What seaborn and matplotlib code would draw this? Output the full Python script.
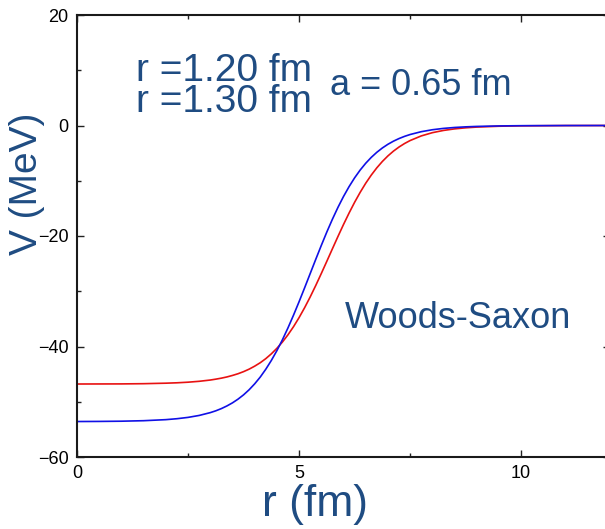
import numpy as np
import pandas as pd
import matplotlib
matplotlib.use("Agg")
import matplotlib.pyplot as plt
from matplotlib.ticker import MultipleLocator
import seaborn as sns

# Radial distance (fm)
r_fm = [0.0, 0.5, 1.0, 1.5, 2.0, 2.25, 2.5, 2.75,
        3.0, 3.125, 3.25, 3.375, 3.5, 3.625, 3.75, 3.875,
        4.0, 4.125, 4.25, 4.375, 4.5, 4.625, 4.75, 4.875,
        5.0, 5.125, 5.25, 5.375, 5.5, 5.625, 5.75, 5.875,
        6.0, 6.125, 6.25, 6.375, 6.5, 6.625, 6.75, 6.875,
        7.0, 7.125, 7.25, 7.375, 7.5, 7.75, 8.0, 8.25, 8.5, 8.75,
        9.0, 9.5, 10.0, 11.0, 12.0]

# Potential (MeV), r0 = 1.20 fm
v_r120 = [-53.58, -53.56, -53.52, -53.43, -53.24, -53.07, -52.83, -52.48,
          -51.97, -51.64, -51.24, -50.76, -50.20, -49.53, -48.75, -47.83,
          -46.76, -45.54, -44.12, -42.53, -40.75, -38.78, -36.63, -34.32,
          -31.89, -29.37, -26.80, -24.23, -21.71, -19.27, -16.97, -14.82,
          -12.85, -11.07, -9.475, -8.065, -6.835, -5.770, -4.851, -4.067,
          -3.399, -2.836, -2.362, -1.964, -1.631, -1.121, -0.769, -0.526,
          -0.359, -0.245, -0.167, -0.078, -0.036, -0.008, -0.002]

# Potential (MeV), r0 = 1.30 fm
v_r130 = [-46.79, -46.78, -46.77, -46.73, -46.64, -46.57, -46.46, -46.30,
          -46.07, -45.91, -45.73, -45.51, -45.24, -44.93, -44.55, -44.10,
          -43.56, -42.94, -42.20, -41.33, -40.33, -39.19, -37.88, -36.41,
          -34.77, -32.97, -31.03, -28.96, -26.79, -24.57, -22.32, -20.09,
          -17.92, -15.85, -13.90, -12.10, -10.45, -8.977, -7.662, -6.508,
          -5.504, -4.635, -3.893, -3.259, -2.722, -1.888, -1.302, -0.894,
          -0.612, -0.419, -0.286, -0.133, -0.062, -0.013, -0.003]

series_names = ["r0 = 1.30 fm", "r0 = 1.20 fm"]
series_colors = ["#e81212", "#1010e6"]

df = pd.concat([
    pd.DataFrame({"r": r_fm, "V": v_r130, "set": series_names[0]}),
    pd.DataFrame({"r": r_fm, "V": v_r120, "set": series_names[1]}),
], ignore_index=True)

sns.set_style("ticks")
plt.rcParams["font.family"] = ["Liberation Sans", "DejaVu Sans"]
plt.rcParams["axes.unicode_minus"] = True

W, H = 605, 529
fig = plt.figure(figsize=(W / 100, H / 100), dpi=100)
ax = fig.add_axes([77 / W, (H - 457) / H, 533 / W, 442 / H])

sns.lineplot(data=df, x="r", y="V", hue="set", hue_order=series_names,
             palette=series_colors, linewidth=1.2, legend=False, ax=ax,
             estimator=None, sort=True)

ax.set_xlim(0, 12)
ax.set_ylim(-60, 20)
ax.xaxis.set_major_locator(MultipleLocator(5))
ax.xaxis.set_minor_locator(MultipleLocator(2.5))
ax.yaxis.set_major_locator(MultipleLocator(20))
ax.yaxis.set_minor_locator(MultipleLocator(10))
ax.tick_params(which="both", direction="in", top=True, right=True,
               colors="#222222", labelcolor="black", labelsize=13, width=1.0)
ax.tick_params(which="major", length=5, pad=6)
ax.tick_params(which="minor", length=3)
for s in ax.spines.values():
    s.set_linewidth(1.5)
    s.set_color("#1a1a1a")

text_blue = "#1f4c82"
ax.set_xlabel("r (fm)", fontsize=32, color=text_blue)
ax.set_ylabel("V (MeV)", fontsize=28, color=text_blue)
ax.xaxis.set_label_coords(0.447, -0.062)
ax.yaxis.set_label_coords(-0.06, 0.618)

ax.text(1.32, 8.0, "r =1.20 fm", fontsize=28, color=text_blue, va="baseline")
ax.text(1.32, 2.4, "r =1.30 fm", fontsize=28, color=text_blue, va="baseline")
ax.text(5.7, 5.6, "a = 0.65 fm", fontsize=26, color=text_blue, va="baseline")
ax.text(6.04, -36.7, "Woods-Saxon", fontsize=26, color=text_blue, va="baseline")

fig.savefig("out.png", dpi=100)
